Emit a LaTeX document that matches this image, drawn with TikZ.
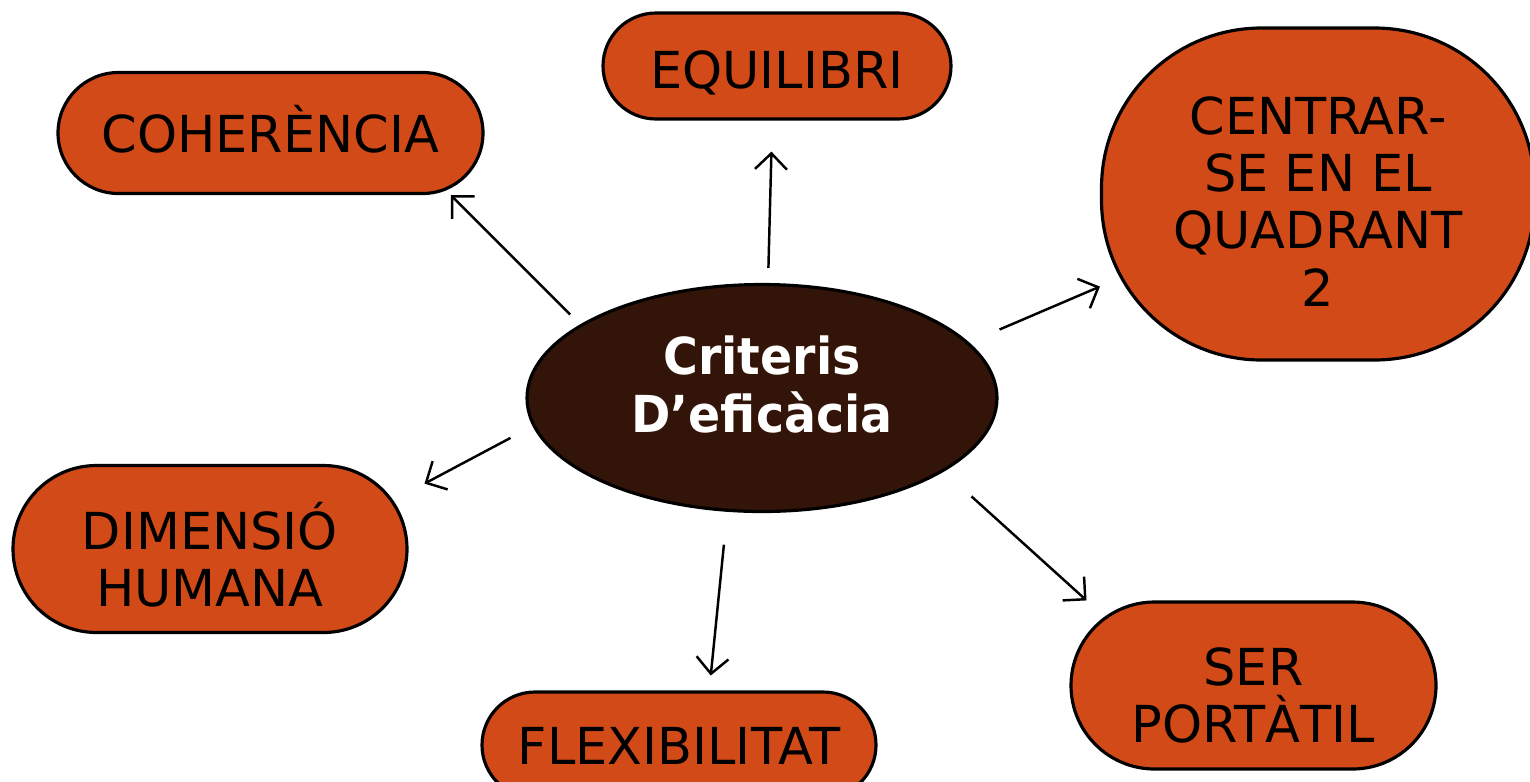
\documentclass[tikz,border=0pt]{standalone}
\usepackage{fontspec}
\setmainfont{DejaVu Sans}
\newfontfamily\hubfont{DejaVu Sans}[FakeStretch=0.93]
\usepackage{tikz}
\usetikzlibrary{arrows.meta,shapes.geometric}
\definecolor{rust}{RGB}{209,74,23}
\definecolor{darkbrown}{RGB}{51,20,8}
% lines of a node, last baseline put #1 off the node centre
\newcommand{\nodetext}[2]{\raisebox{#1}[0pt][0pt]{\begin{tabular}[b]{@{}c@{}}#2\end{tabular}}}

\begin{document}
\begin{tikzpicture}[
    idea/.style={draw=black, line width=0.9pt, fill=rust, inner sep=0pt,
        font=\fontsize{14.5}{16.3}\selectfont},
    hub/.style={ellipse, draw=black, line width=0.9pt, fill=darkbrown, text=white, inner sep=0pt,
        minimum width=4.7cm, minimum height=2.27cm,
        font=\hubfont\bfseries\fontsize{14.5}{16.0}\selectfont},
    link/.style={line width=0.7pt, -{Straight Barb[length=1.6mm,width=3.2mm]}}
]
        \useasboundingbox (0,0) rectangle (15.3,7.81);

        \node[hub] (crit) at (7.62,3.83) {\nodetext{-0.345cm}{Criteris\\D’eficàcia}};

        \node[idea, minimum width=4.25cm, minimum height=1.21cm, rounded corners=0.605cm] (coh) at (2.705,6.48) {\nodetext{-0.19cm}{COHERÈNCIA}};
        \node[idea, minimum width=3.48cm, minimum height=1.06cm, rounded corners=0.53cm] (equ) at (7.77,7.15) {\nodetext{-0.22cm}{EQUILIBRI}};
        \node[idea, minimum width=4.33cm, minimum height=3.32cm, rounded corners=1.6cm] (cen) at (13.18,5.87) {\nodetext{-1.12cm}{CENTRAR-\\SE EN EL\\QUADRANT\\2}};
        \node[idea, minimum width=3.94cm, minimum height=1.67cm, rounded corners=0.835cm] (dim) at (2.10,2.32) {\nodetext{-0.575cm}{DIMENSIÓ\\HUMANA}};
        \node[idea, minimum width=3.94cm, minimum height=1.06cm, rounded corners=0.53cm] (flex) at (6.79,0.36) {\nodetext{-0.19cm}{FLEXIBILITAT}};
        \node[idea, minimum width=3.65cm, minimum height=1.67cm, rounded corners=0.835cm] (ser) at (12.535,0.955) {\nodetext{-0.57cm}{SER\\PORT\smash{À}TIL}};

        \draw[link, shorten <=0.14cm] (crit.158) -- (coh.-19);
        \draw[link, shorten <=0.15cm, shorten >=0.31cm] (crit.87) -- (equ.-95);
        \draw[link, shorten <=0.33cm] (crit.15) -- (cen.203);
        \draw[link, shorten <=0.25cm, shorten >=0.18cm] (crit.187) -- (dim.16.9);
        \draw[link, shorten <=0.33cm, shorten >=0.15cm] (crit.253) -- (flex.61);
        \draw[link, shorten <=0.37cm] (crit.-22.8) -- (ser.153.2);

\end{tikzpicture}
\end{document}
